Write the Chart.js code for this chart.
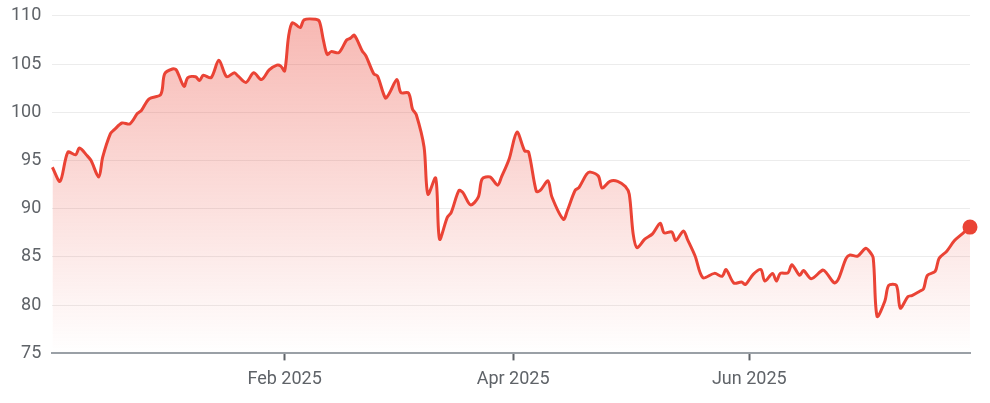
<!DOCTYPE html>
<html>
<head>
<meta charset="utf-8">
<script src="https://cdn.jsdelivr.net/npm/chart.js@4"></script>
<style>
  html, body { margin: 0; padding: 0; background: #fff; }
  #wrap { width: 990px; height: 403px; }
</style>
</head>
<body>
<div id="wrap"><canvas id="priceChart"></canvas></div>
<script>
const dates = [
  '2024-12-03','2024-12-05','2024-12-07','2024-12-09','2024-12-10','2024-12-12','2024-12-13','2024-12-15','2024-12-16','2024-12-18',
  '2024-12-19','2024-12-21','2024-12-23','2024-12-25','2024-12-26','2024-12-28','2024-12-31','2025-01-01','2025-01-03','2025-01-04',
  '2025-01-06','2025-01-07','2025-01-09','2025-01-10','2025-01-11','2025-01-13','2025-01-15','2025-01-17','2025-01-19','2025-01-20',
  '2025-01-22','2025-01-24','2025-01-26','2025-01-28','2025-01-30','2025-01-31','2025-02-01','2025-02-02','2025-02-03','2025-02-05',
  '2025-02-06','2025-02-09','2025-02-10','2025-02-11','2025-02-12','2025-02-13','2025-02-15','2025-02-17','2025-02-18','2025-02-19',
  '2025-02-21','2025-02-22','2025-02-24','2025-02-25','2025-02-27','2025-02-28','2025-03-02','2025-03-03','2025-03-05','2025-03-06',
  '2025-03-07','2025-03-09','2025-03-10','2025-03-12','2025-03-13','2025-03-15','2025-03-16','2025-03-18','2025-03-19','2025-03-21',
  '2025-03-23','2025-03-24','2025-03-26','2025-03-28','2025-03-29','2025-03-31','2025-04-02','2025-04-04','2025-04-05','2025-04-07',
  '2025-04-08','2025-04-10','2025-04-11','2025-04-14','2025-04-15','2025-04-17','2025-04-18','2025-04-20','2025-04-21','2025-04-23',
  '2025-04-24','2025-04-26','2025-04-28','2025-04-30','2025-05-01','2025-05-02','2025-05-03','2025-05-05','2025-05-07','2025-05-09',
  '2025-05-10','2025-05-12','2025-05-13','2025-05-15','2025-05-16','2025-05-18','2025-05-20','2025-05-23','2025-05-25','2025-05-26',
  '2025-05-28','2025-05-30','2025-05-31','2025-06-02','2025-06-04','2025-06-05','2025-06-07','2025-06-08','2025-06-09','2025-06-11',
  '2025-06-12','2025-06-14','2025-06-15','2025-06-17','2025-06-20','2025-06-21','2025-06-23','2025-06-24','2025-06-26','2025-06-27',
  '2025-06-29','2025-07-01','2025-07-02','2025-07-03','2025-07-04','2025-07-06','2025-07-07','2025-07-09','2025-07-10','2025-07-12',
  '2025-07-13','2025-07-15','2025-07-16','2025-07-17','2025-07-19','2025-07-20','2025-07-22','2025-07-24','2025-07-26','2025-07-28'
];
const prices = [
  94.3, 92.85, 95.87, 95.6, 96.3, 95.5, 95.0, 93.3, 95.35, 97.8,
  98.2, 98.9, 98.8, 99.9, 100.2, 101.4, 101.85, 104.0, 104.5, 104.4,
  102.7, 103.6, 103.7, 103.3, 103.85, 103.6, 105.4, 103.7, 104.1, 103.75,
  103.1, 104.1, 103.4, 104.4, 104.9, 104.8, 104.3, 107.85, 109.3, 108.8,
  109.6, 109.65, 109.4, 107.5, 106.0, 106.3, 106.2, 107.5, 107.7, 108.0,
  106.4, 105.85, 104.0, 103.75, 101.5, 101.95, 103.4, 102.05, 102.0, 100.35,
  99.75, 96.4, 91.5, 93.2, 86.85, 89.1, 89.6, 91.9, 91.7, 90.4,
  91.2, 93.1, 93.3, 92.45, 93.3, 95.2, 97.95, 96.0, 95.9, 91.8,
  91.9, 92.9, 91.25, 88.9, 89.8, 91.9, 92.2, 93.6, 93.8, 93.4,
  92.15, 92.85, 92.85, 92.3, 91.5, 87.4, 85.97, 86.85, 87.4, 88.5,
  87.5, 87.6, 86.7, 87.7, 86.85, 85.1, 82.85, 83.3, 83.0, 83.7,
  82.3, 82.4, 82.15, 83.2, 83.7, 82.5, 83.3, 82.5, 83.3, 83.35,
  84.2, 83.1, 83.6, 82.75, 83.65, 83.3, 82.3, 82.7, 84.85, 85.2,
  85.1, 85.9, 85.6, 84.9, 78.85, 80.4, 82.05, 82.05, 79.7, 80.9,
  81.0, 81.45, 81.7, 83.1, 83.5, 84.85, 85.6, 86.7, 87.4, 88.1
];
const tickDates = ['2025-02-01', '2025-04-01', '2025-06-01'];
const tickLabels = ['Feb 2025', 'Apr 2025', 'Jun 2025'];

// days since 1 Dec 2024, used as the x value on a linear scale
function dayNum(s) {
  const p = s.split('-').map(Number);
  return (Date.UTC(p[0], p[1] - 1, p[2]) - Date.UTC(2024, 11, 1)) / 86400000;
}

const points = dates.map((d, i) => ({ x: dayNum(d), y: prices[i] }));
const tickPos = tickDates.map(dayNum);
const last = points.length - 1;

const ctx = document.getElementById('priceChart').getContext('2d');
const chart = new Chart(ctx, {
  type: 'line',
  data: {
    datasets: [{
      data: points,
      borderColor: '#ea4335',
      borderWidth: 3,
      tension: 0.3,
      clip: false,
      fill: 'start',
      backgroundColor: (c) => {
        const area = c.chart.chartArea;
        if (!area) return 'rgba(234,67,53,0.2)';
        const g = c.chart.ctx.createLinearGradient(0, area.top, 0, area.bottom);
        g.addColorStop(0, 'rgba(234,67,53,0.38)');
        g.addColorStop(1, 'rgba(234,67,53,0.0)');
        return g;
      },
      pointRadius: (c) => c.dataIndex === last ? 7.5 : 0,
      pointHoverRadius: 0,
      pointBackgroundColor: '#ea4335',
      pointBorderWidth: 0
    }]
  },
  options: {
    responsive: true,
    maintainAspectRatio: false,
    animation: false,
    layout: {
      padding: { left: 0, right: 20, top: 0, bottom: 5 }
    },
    plugins: {
      legend: { display: false },
      tooltip: { enabled: false }
    },
    scales: {
      x: {
        type: 'linear',
        min: points[0].x,
        max: points[last].x,
        afterBuildTicks: (scale) => {
          scale.ticks = tickPos.map(v => ({ value: v }));
        },
        ticks: {
          autoSkip: false,
          maxRotation: 0,
          padding: 8,
          color: '#5f6368',
          font: { family: 'Roboto', size: 18 },
          callback: (v) => tickLabels[tickPos.indexOf(v)]
        },
        grid: {
          drawOnChartArea: false,
          drawTicks: true,
          tickLength: 7,
          tickWidth: 2,
          tickColor: '#5f6368'
        },
        border: { color: '#9aa0a6', width: 2 }
      },
      y: {
        min: 75,
        max: 110,
        ticks: {
          stepSize: 5,
          padding: 11,
          color: '#5f6368',
          font: { family: 'Roboto', size: 18, lineHeight: 0.55 }
        },
        grid: {
          color: '#ececec',
          drawTicks: false
        },
        border: { display: false }
      }
    }
  }
});
</script>
</body>
</html>
